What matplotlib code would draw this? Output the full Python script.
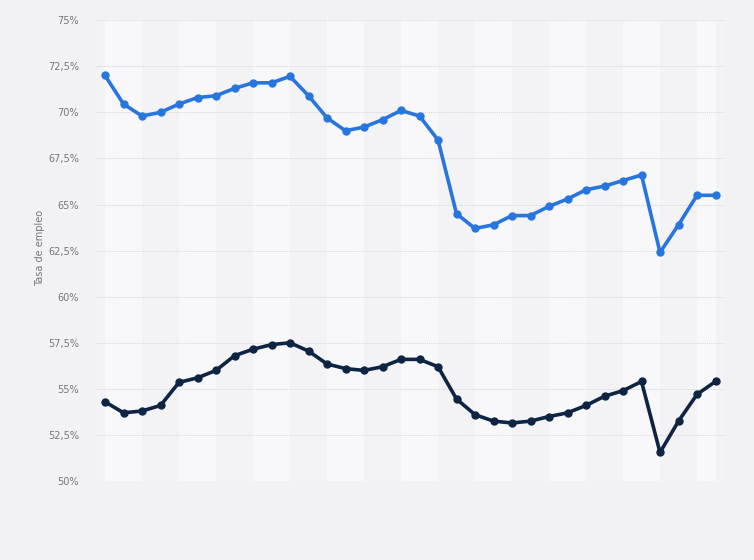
import matplotlib.pyplot as plt
from matplotlib.ticker import FuncFormatter

# Tasa de empleo, 34 periodos (sin etiquetas en el eje x)
periods = list(range(34))
serie_1 = [72.0, 70.45, 69.8, 70.0, 70.45, 70.8, 70.9, 71.3, 71.6, 71.6,
           71.95, 70.9, 69.7, 69.0, 69.2, 69.6, 70.1, 69.8, 68.5, 64.5,
           63.7, 63.9, 64.4, 64.4, 64.9, 65.3, 65.8, 66.0, 66.3, 66.6,
           62.4, 63.9, 65.5, 65.5]
serie_2 = [54.3, 53.7, 53.8, 54.1, 55.35, 55.6, 56.0, 56.8, 57.15, 57.4,
           57.5, 57.05, 56.35, 56.1, 56.0, 56.2, 56.6, 56.6, 56.2, 54.45,
           53.6, 53.25, 53.15, 53.25, 53.5, 53.7, 54.1, 54.6, 54.9, 55.4,
           51.55, 53.25, 54.7, 55.4]
y_ticks = [50, 52.5, 55, 57.5, 60, 62.5, 65, 67.5, 70, 72.5, 75]

fig = plt.figure(figsize=(7.54, 5.6), dpi=100, facecolor='#f2f1f4')
ax = fig.add_axes([0.127, 0.141, 0.833, 0.823])
ax.set_facecolor('#f3f2f5')

# alternating bands, two periods wide
for start in range(0, len(periods), 4):
    ax.axvspan(start, min(start + 2, periods[-1]), color='#f8f7fa', lw=0, zorder=0)

ax.plot(periods, serie_1, color='#2876dd', lw=2.6, marker='o', markersize=5, zorder=3)
ax.plot(periods, serie_2, color='#0d2443', lw=2.6, marker='o', markersize=5, zorder=3)

ax.set_xlim(-0.5, 33.45)
ax.set_ylim(50, 75)
ax.set_yticks(y_ticks)
ax.yaxis.set_major_formatter(FuncFormatter(
    lambda v, p: (f'{v:g}'.replace('.', ',')) + '%'))
ax.set_xticks([])
ax.grid(axis='y', color='#d6d6db', linestyle=(0, (1, 1)), lw=0.7, zorder=1)
ax.tick_params(axis='y', length=0, pad=12, labelsize=7, labelcolor='#777777')
for s in ax.spines.values():
    s.set_visible(False)
ax.set_ylabel('Tasa de empleo', fontsize=7, color='#777777')
ax.yaxis.set_label_coords(-0.08, 0.505)

fig.savefig('out.png', dpi=100, facecolor=fig.get_facecolor())
